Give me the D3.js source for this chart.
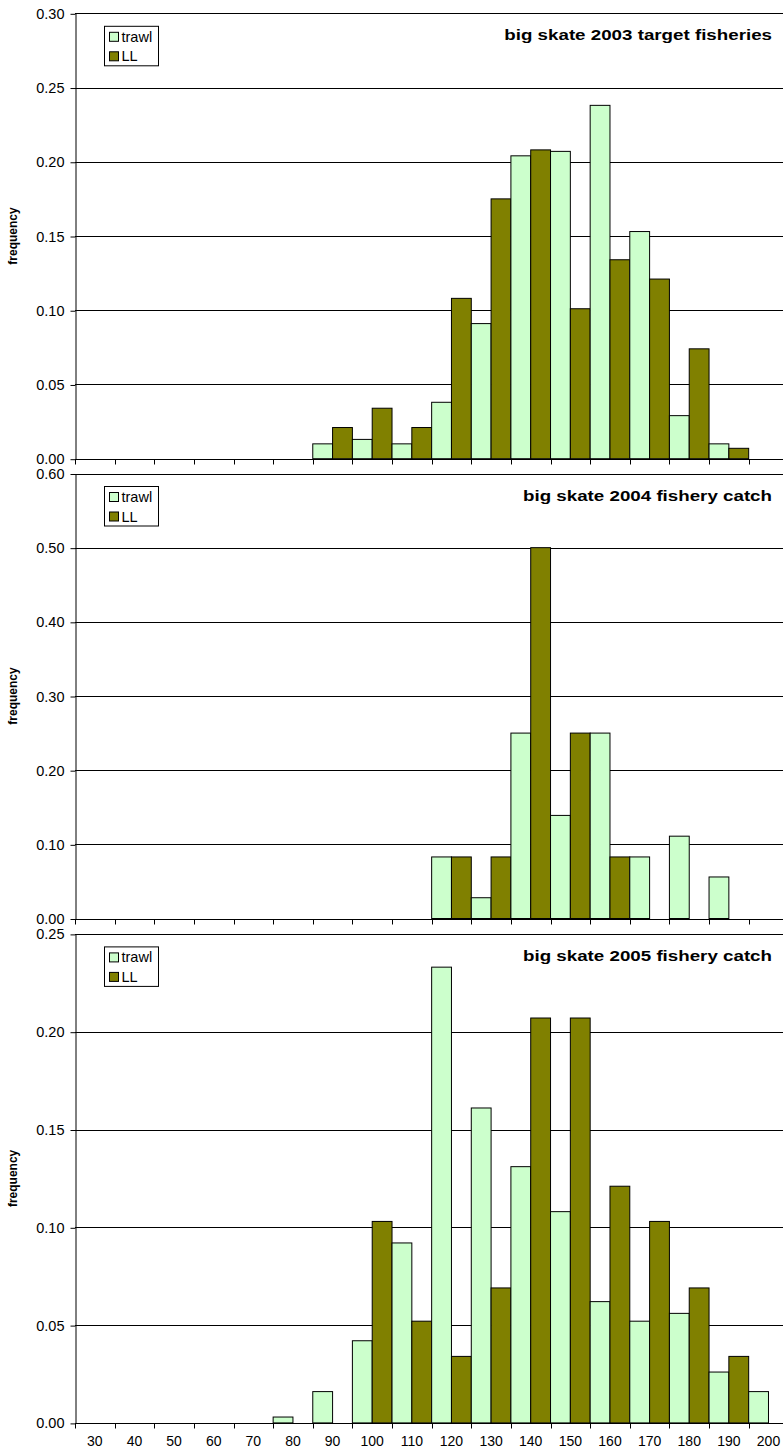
<!DOCTYPE html>
<html>
<head>
<meta charset="utf-8">
<script src="https://cdn.jsdelivr.net/npm/d3@7"></script>
<style>
  html, body { margin: 0; padding: 0; background: #fff; }
  svg { display: block; }
  text { font-family: "Liberation Sans", Arial, sans-serif; fill: #000; }
</style>
</head>
<body>
<svg id="chart" width="783" height="1456"></svg>
<script>
// ---- data ----
const categories = [30, 40, 50, 60, 70, 80, 90, 100, 110, 120, 130, 140, 150, 160, 170, 180, 190, 200];
const seriesNames = ["trawl", "LL"];
const seriesColors = ["#CCFFCC", "#808000"];

const titles = ["big skate 2003 target fisheries", "big skate 2004 fishery catch", "big skate 2005 fishery catch"];

const trawl2003 = [0, 0, 0, 0, 0, 0, 0.010, 0.013, 0.010, 0.038, 0.091, 0.204, 0.207, 0.238, 0.153, 0.029, 0.010, 0];
const ll2003    = [0, 0, 0, 0, 0, 0, 0.021, 0.034, 0.021, 0.108, 0.175, 0.208, 0.101, 0.134, 0.121, 0.074, 0.007, 0];

const trawl2004 = [0, 0, 0, 0, 0, 0, 0, 0, 0, 0.083, 0.028, 0.250, 0.139, 0.250, 0.083, 0.111, 0.056, 0];
const ll2004    = [0, 0, 0, 0, 0, 0, 0, 0, 0, 0.083, 0.083, 0.500, 0.250, 0.083, 0, 0, 0, 0];

const trawl2005 = [0, 0, 0, 0, 0, 0.003, 0.016, 0.042, 0.092, 0.233, 0.161, 0.131, 0.108, 0.062, 0.052, 0.056, 0.026, 0.016];
const ll2005    = [0, 0, 0, 0, 0, 0, 0, 0.103, 0.052, 0.034, 0.069, 0.207, 0.207, 0.121, 0.103, 0.069, 0.034, 0];

const yMax2003 = 0.30, yTicks2003 = [0, 0.05, 0.10, 0.15, 0.20, 0.25, 0.30];
const yMax2004 = 0.60, yTicks2004 = [0, 0.10, 0.20, 0.30, 0.40, 0.50, 0.60];
const yMax2005 = 0.25, yTicks2005 = [0, 0.05, 0.10, 0.15, 0.20, 0.25];

const yTitle = "frequency";

// ---- layout ----
const W = 783;
const plotLeft = 75, plotRight = 788.3;
const panels = [
  { top: 13.3,  bottom: 458.7,  title: titles[0], trawl: trawl2003, ll: ll2003, yMax: yMax2003, ticks: yTicks2003, xLabels: false },
  { top: 473.5, bottom: 918.5,  title: titles[1], trawl: trawl2004, ll: ll2004, yMax: yMax2004, ticks: yTicks2004, xLabels: false },
  { top: 933.9, bottom: 1422.9, title: titles[2], trawl: trawl2005, ll: ll2005, yMax: yMax2005, ticks: yTicks2005, xLabels: true }
];

const svg = d3.select("#chart");

const x = d3.scaleBand().domain(categories).range([plotLeft, plotRight]).paddingInner(0).paddingOuter(0);
const xs = d3.scaleBand().domain(seriesNames).range([0, x.bandwidth()]).padding(0);
const color = d3.scaleOrdinal().domain(seriesNames).range(seriesColors);
const fmt = d3.format(".2f");

panels.forEach((p) => {
  const g = svg.append("g");
  const y = d3.scaleLinear().domain([0, p.yMax]).range([p.bottom, p.top]);

  // gridlines
  g.append("g").selectAll("line")
    .data(p.ticks.filter(d => d > 0))
    .join("line")
    .attr("x1", plotLeft).attr("x2", W)
    .attr("y1", d => Math.round(y(d)) + 0.5).attr("y2", d => Math.round(y(d)) + 0.5)
    .attr("stroke", "#000").attr("stroke-width", 1);

  // bars
  const rows = categories.map((c, i) => ({ c, vals: [p.trawl[i], p.ll[i]] }));
  const grp = g.append("g").selectAll("g")
    .data(rows).join("g")
    .attr("transform", d => `translate(${x(d.c)},0)`);
  grp.selectAll("rect")
    .data(d => seriesNames.map((s, k) => ({ s, v: d.vals[k] })).filter(e => e.v > 0))
    .join("rect")
    .attr("x", d => xs(d.s))
    .attr("width", xs.bandwidth())
    .attr("y", d => y(d.v))
    .attr("height", d => y(0) - y(d.v))
    .attr("fill", d => color(d.s))
    .attr("stroke", "#000")
    .attr("stroke-width", 1);

  // y axis
  const yAxis = d3.axisLeft(y).tickValues(p.ticks).tickFormat(fmt).tickSize(5).tickSizeOuter(0).tickPadding(6);
  const ya = g.append("g").attr("transform", `translate(${plotLeft + 0.5},0)`).call(yAxis);
  ya.selectAll("text").style("font-size", "14.5px").attr("dy", "0.35em");
  ya.selectAll("line, path").attr("stroke", "#000");
  ya.selectAll(".tick line").attr("transform", "translate(0,0.5)");

  // x axis baseline
  const xa = d3.axisBottom(x).tickSize(0).tickSizeOuter(0).tickPadding(13);
  const xg = g.append("g").attr("transform", `translate(0,${Math.round(p.bottom) + 0.5})`).call(xa);
  xg.select(".domain").attr("stroke", "#000").attr("d", `M${plotLeft},0H${W}`);
  if (!p.xLabels) xg.selectAll(".tick text").remove();
  xg.selectAll(".tick text").style("font-size", "14px");
  // tick marks at band boundaries
  xg.append("g").selectAll("line")
    .data(categories)
    .join("line")
    .attr("x1", d => Math.round(x(d)) + 0.5).attr("x2", d => Math.round(x(d)) + 0.5)
    .attr("y1", 0).attr("y2", 5)
    .attr("stroke", "#000");

  // y title
  g.append("text")
    .attr("transform", `translate(17,${(p.top + p.bottom) / 2}) rotate(-90)`)
    .attr("text-anchor", "middle")
    .style("font-size", "12px").style("font-weight", "bold")
    .text(yTitle);

  // chart title
  g.append("text")
    .attr("transform", `translate(772,${p.top + 27}) scale(1.25,1)`)
    .attr("text-anchor", "end")
    .style("font-size", "15px").style("font-weight", "bold")
    .text(p.title);

  // legend
  const lg = g.append("g").attr("transform", `translate(104.5,${p.top + 13})`);
  lg.append("rect").attr("x", 0).attr("y", 0).attr("width", 54).attr("height", 39.5)
    .attr("fill", "#fff").attr("stroke", "#000");
  seriesNames.forEach((s, k) => {
    lg.append("rect").attr("x", 5).attr("y", 6 + k * 19.5).attr("width", 9).attr("height", 9)
      .attr("fill", color(s)).attr("stroke", "#000");
    lg.append("text").attr("x", 17).attr("y", 15.5 + k * 19.5)
      .style("font-size", "14.5px").text(s);
  });
});
</script>
</body>
</html>
